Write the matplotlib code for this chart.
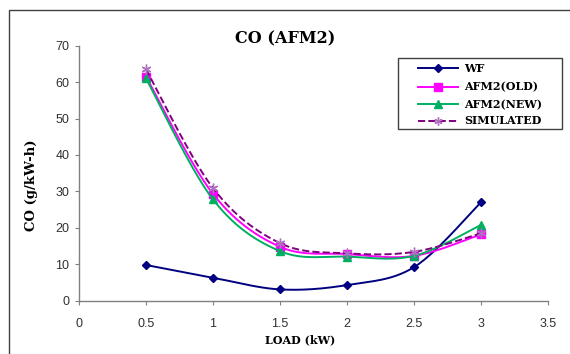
import numpy as np
import matplotlib
matplotlib.use("Agg")
import matplotlib.pyplot as plt
from matplotlib.patches import Rectangle
from matplotlib.lines import Line2D

load = [0.5, 1.0, 1.5, 2.0, 2.5, 3.0]
wf = [9.8, 6.3, 3.1, 4.3, 9.2, 27.0]
afm2_old = [61.5, 29.3, 14.8, 12.8, 12.3, 18.2]
afm2_new = [61.0, 27.8, 13.6, 12.1, 12.3, 20.8]
simulated = [63.5, 30.9, 15.8, 13.0, 13.4, 18.5]

xticks = [0, 0.5, 1, 1.5, 2, 2.5, 3, 3.5]
yticks = [0, 10, 20, 30, 40, 50, 60, 70]

W, H = 570.0, 354.0


def fx(px):
    return px / W


def fy(py):
    return 1 - py / H


def smooth(x, y, sx=134.0, sy=3.643, n=30):
    """Excel-like smoothed line (Catmull-Rom Bezier) computed in pixel-like space."""
    P = np.column_stack([np.asarray(x) * sx, np.asarray(y) * sy])
    out = []
    for i in range(len(P) - 1):
        p0 = P[i - 1] if i > 0 else P[i]
        p1 = P[i]
        p2 = P[i + 1]
        p3 = P[i + 2] if i + 2 < len(P) else P[i + 1]
        c1 = p1 + (p2 - p0) / 6.0
        c2 = p2 - (p3 - p1) / 6.0
        t = np.linspace(0, 1, n)[:, None]
        seg = ((1 - t) ** 3) * p1 + 3 * ((1 - t) ** 2) * t * c1 + 3 * (1 - t) * t ** 2 * c2 + t ** 3 * p2
        if i > 0:
            seg = seg[1:]
        out.append(seg)
    arr = np.vstack(out)
    return arr[:, 0] / sx, arr[:, 1] / sy


fig = plt.figure(figsize=(5.7, 3.54), dpi=100)
fig.patch.set_facecolor("white")
fig.patches.append(Rectangle((fx(9), -0.1), 1.2, fy(10) + 0.1, transform=fig.transFigure,
                             fill=False, edgecolor="#404040", linewidth=1.0))

ax = fig.add_axes([fx(79), fy(300.7), 469 / W, 255 / H])

series = [
    ("WF", wf, "#000080", "D", "-", 4.5, "#000080", "#000080"),
    ("AFM2(OLD)", afm2_old, "#FF00FF", "s", "-", 6, "#FF00FF", "#FF00FF"),
    ("AFM2(NEW)", afm2_new, "#00B060", "^", "-", 6, "#00B060", "#00B060"),
    ("SIMULATED", simulated, "#800080", (6, 2, 0), "--", 7, "#B070C0", "#B070C0"),
]

for name, vals, color, marker, ls, ms, mfc, mec in series:
    sxv, syv = smooth(load, vals)
    ax.plot(sxv, syv, color=color, linestyle=ls, linewidth=1.4)
    ax.plot(load, vals, linestyle="none", marker=marker, markersize=ms,
            markerfacecolor=mfc, markeredgecolor=mec, markeredgewidth=1.0)

ax.set_xlim(0, 3.5)
ax.set_ylim(0, 70)
ax.set_xticks(xticks)
ax.set_xticklabels([f"{t:g}" for t in xticks])
ax.set_yticks(yticks)
ax.set_yticklabels([str(t) for t in yticks])

for s in ["top", "right"]:
    ax.spines[s].set_visible(False)
for s in ["left", "bottom"]:
    ax.spines[s].set_color("#808080")
    ax.spines[s].set_linewidth(1.0)

ax.tick_params(axis="both", direction="out", length=3, width=0.8, color="#808080",
               labelsize=9, labelcolor="#303030")
ax.tick_params(axis="x", pad=9.5)
ax.tick_params(axis="y", pad=4)
for lbl in ax.get_xticklabels() + ax.get_yticklabels():
    lbl.set_family("Liberation Sans")

serif = "DejaVu Serif"
fig.text(fx(300), fy(340), "LOAD (kW)", ha="center", va="center", fontsize=8,
         fontweight="bold", family=serif)
fig.text(fx(32), fy(185), "CO (g/kW-h)", ha="center", va="center", rotation=90,
         fontsize=9.5, fontweight="bold", family=serif)
fig.text(fx(285), fy(39), "CO (AFM2)", ha="center", va="center", fontsize=11.5,
         fontweight="bold", family=serif)

# legend (drawn manually in figure pixel layout)
fig.patches.append(Rectangle((fx(398), fy(129)), (562 - 398) / W, (129 - 58) / H,
                             transform=fig.transFigure, facecolor="white",
                             edgecolor="#404040", linewidth=1.0, zorder=5))
rows = [68.3, 86.7, 104.3, 121.0]
for (name, vals, color, marker, ls, ms, mfc, mec), ry in zip(series, rows):
    fig.add_artist(Line2D([fx(418), fx(458)], [fy(ry), fy(ry)], transform=fig.transFigure,
                          color=color, linestyle=ls, linewidth=1.4, zorder=6))
    fig.add_artist(Line2D([fx(438)], [fy(ry)], transform=fig.transFigure, linestyle="none",
                          marker=marker, markersize=ms * 0.85, markerfacecolor=mfc,
                          markeredgecolor=mec, zorder=7))
    fig.text(fx(464), fy(ry), name, ha="left", va="center", fontsize=8,
             fontweight="bold", family=serif, zorder=7)

fig.savefig("out.png", dpi=100, facecolor="white")
